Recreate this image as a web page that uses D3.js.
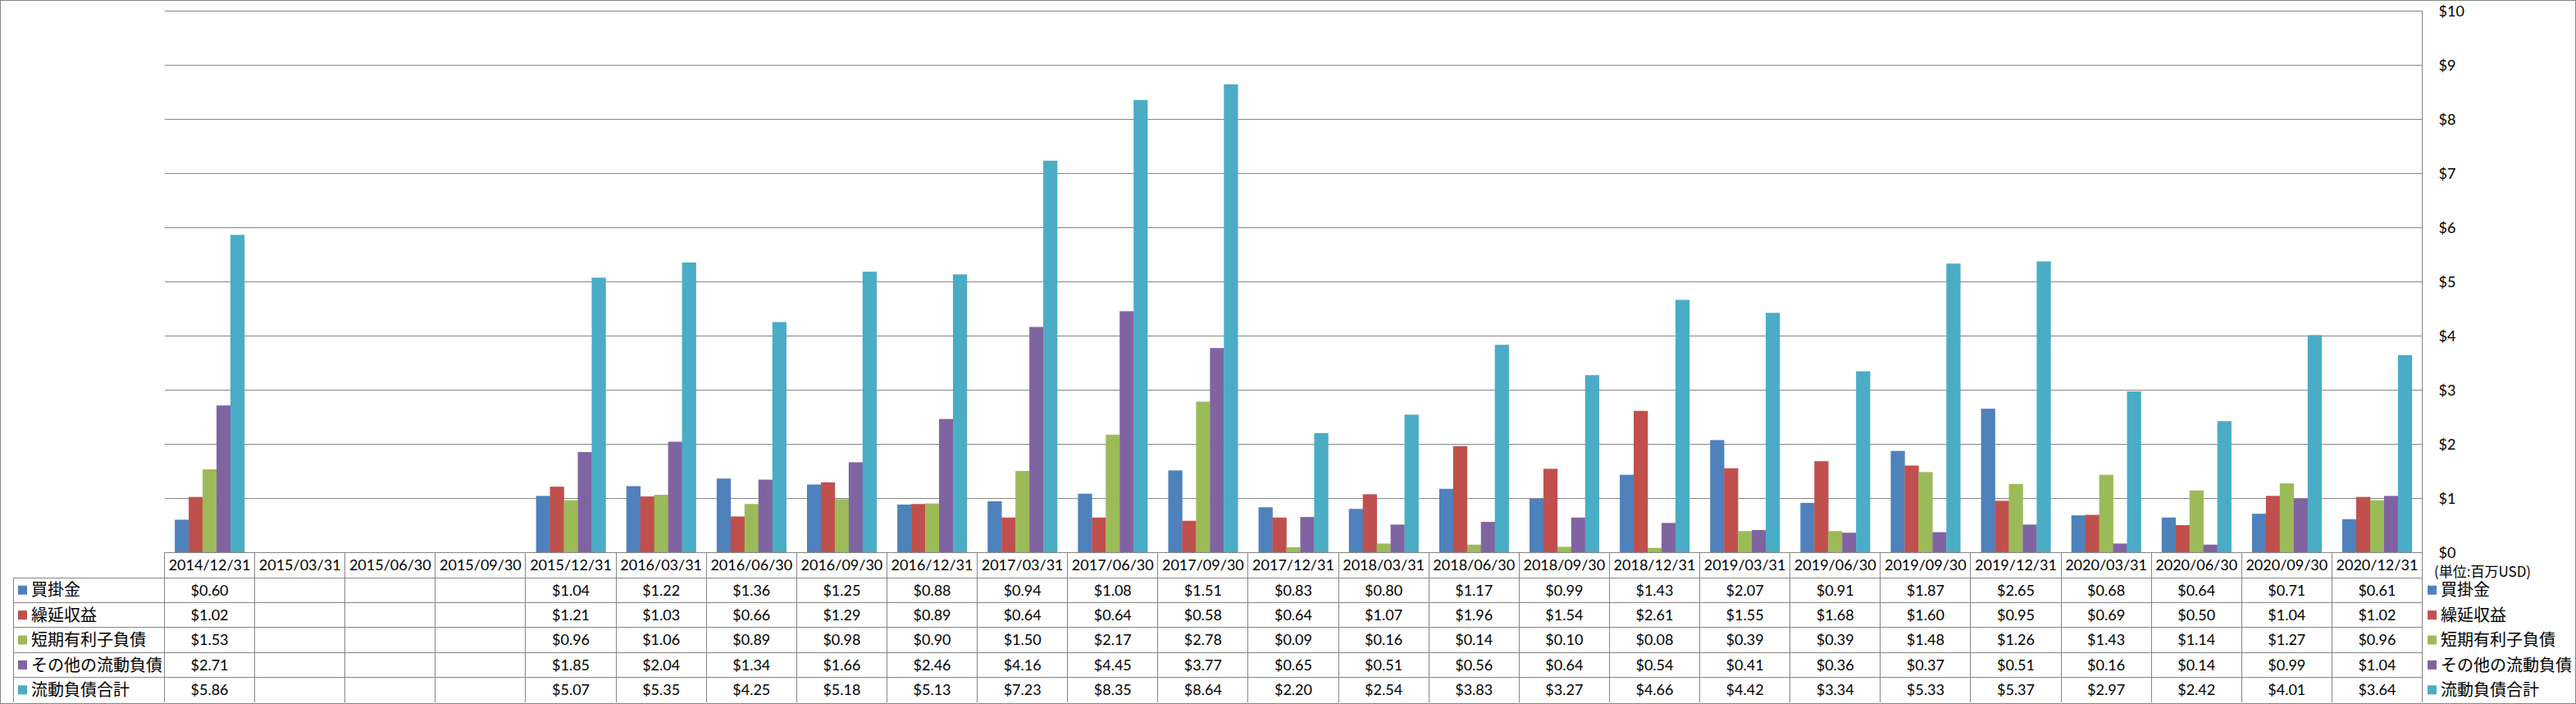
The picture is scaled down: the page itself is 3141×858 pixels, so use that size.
<!DOCTYPE html>
<html>
<head>
<meta charset="utf-8">
<script src="https://cdn.jsdelivr.net/npm/d3@7"></script>
<style>
  html, body { margin: 0; padding: 0; background: #fff; }
  svg { display: block; }
  .num { font-family: Lato, "Open Sans", sans-serif; font-size: 18px; fill: #000; }
  .jp { font-family: "Noto Sans CJK JP", sans-serif; font-size: 20px; fill: #000; }
</style>
</head>
<body>
<svg id="chart" width="3141" height="858"></svg>
<script>
// quarter end dates
const dates = ["2014/12/31", "2015/03/31", "2015/06/30", "2015/09/30", "2015/12/31",
  "2016/03/31", "2016/06/30", "2016/09/30", "2016/12/31", "2017/03/31", "2017/06/30",
  "2017/09/30", "2017/12/31", "2018/03/31", "2018/06/30", "2018/09/30", "2018/12/31",
  "2019/03/31", "2019/06/30", "2019/09/30", "2019/12/31", "2020/03/31", "2020/06/30",
  "2020/09/30", "2020/12/31"];

const seriesNames = ["買掛金", "繰延収益", "短期有利子負債", "その他の流動負債", "流動負債合計"];
const seriesColors = ["#4F81BD", "#C0504D", "#9BBB59", "#8064A2", "#4BACC6"];

// millions USD, null = no data
const accountsPayable = [0.60, null, null, null, 1.04, 1.22, 1.36, 1.25, 0.88, 0.94, 1.08, 1.51, 0.83, 0.80, 1.17, 0.99, 1.43, 2.07, 0.91, 1.87, 2.65, 0.68, 0.64, 0.71, 0.61];
const deferredRevenue = [1.02, null, null, null, 1.21, 1.03, 0.66, 1.29, 0.89, 0.64, 0.64, 0.58, 0.64, 1.07, 1.96, 1.54, 2.61, 1.55, 1.68, 1.60, 0.95, 0.69, 0.50, 1.04, 1.02];
const shortTermDebt = [1.53, null, null, null, 0.96, 1.06, 0.89, 0.98, 0.90, 1.50, 2.17, 2.78, 0.09, 0.16, 0.14, 0.10, 0.08, 0.39, 0.39, 1.48, 1.26, 1.43, 1.14, 1.27, 0.96];
const otherCurrent = [2.71, null, null, null, 1.85, 2.04, 1.34, 1.66, 2.46, 4.16, 4.45, 3.77, 0.65, 0.51, 0.56, 0.64, 0.54, 0.41, 0.36, 0.37, 0.51, 0.16, 0.14, 0.99, 1.04];
const totalCurrent = [5.86, null, null, null, 5.07, 5.35, 4.25, 5.18, 5.13, 7.23, 8.35, 8.64, 2.20, 2.54, 3.83, 3.27, 4.66, 4.42, 3.34, 5.33, 5.37, 2.97, 2.42, 4.01, 3.64];

const yTicks = [0, 1, 2, 3, 4, 5, 6, 7, 8, 9, 10];
const unitLabel = "(単位:百万USD)";

const seriesValues = [accountsPayable, deferredRevenue, shortTermDebt, otherCurrent, totalCurrent];

const W = 3141, H = 858;
const plotLeft = 200.5, plotRight = 2953.5, plotTop = 13, plotBottom = 673;
const tableLeft = 16.5, headerBottom = 704, tableBottom = 856;
const lineColor = "#868686";

const svg = d3.select("#chart");

// outer border
svg.append("rect")
  .attr("x", 0.5).attr("y", 0.5)
  .attr("width", W - 1).attr("height", H - 1)
  .attr("fill", "none").attr("stroke", lineColor);

const x = d3.scaleBand()
  .domain(dates)
  .range([plotLeft, plotRight])
  .paddingInner(0.23)
  .paddingOuter(0.115);

const xCol = d3.scaleBand()
  .domain(dates)
  .range([plotLeft, plotRight]);

const x1 = d3.scaleBand()
  .domain(seriesNames)
  .range([0, x.bandwidth()]);

const y = d3.scaleLinear()
  .domain([0, 10])
  .range([plotBottom, plotTop]);

const rowY = d3.scaleBand()
  .domain(seriesNames)
  .range([headerBottom, tableBottom]);

// gridlines + right labels
const axis = svg.append("g")
  .attr("transform", `translate(${plotRight},0)`)
  .call(d3.axisRight(y)
    .tickValues(yTicks)
    .tickSizeInner(-(plotRight - plotLeft))
    .tickSizeOuter(0)
    .tickPadding(20)
    .tickFormat(d => "$" + d));
axis.select(".domain").remove();
axis.selectAll(".tick line").attr("stroke", lineColor).attr("shape-rendering", "crispEdges");
axis.selectAll(".tick text")
  .attr("class", "num")
  .attr("dy", "0.35em")
  .attr("text-anchor", "start");

// bars
const rows = dates.map((d, i) => ({
  date: d,
  values: seriesNames.map((s, j) => ({ name: s, value: seriesValues[j][i], color: seriesColors[j] }))
}));

svg.append("g")
  .selectAll("g")
  .data(rows)
  .join("g")
    .attr("transform", d => `translate(${x(d.date)},0)`)
  .selectAll("rect")
  .data(d => d.values.filter(v => v.value != null))
  .join("rect")
    .attr("x", d => x1(d.name))
    .attr("width", x1.bandwidth() + 0.3)
    .attr("y", d => y(d.value))
    .attr("height", d => y(0) - y(d.value))
    .attr("fill", d => d.color);

// data table lines
const grid = svg.append("g")
  .attr("stroke", lineColor)
  .attr("shape-rendering", "crispEdges");

grid.append("line")
  .attr("x1", plotLeft).attr("x2", plotRight)
  .attr("y1", plotBottom).attr("y2", plotBottom);

grid.selectAll("line.row")
  .data(seriesNames)
  .join("line")
    .attr("class", "row")
    .attr("x1", tableLeft).attr("x2", plotRight)
    .attr("y1", d => rowY(d)).attr("y2", d => rowY(d));

grid.selectAll("line.col")
  .data(dates)
  .join("line")
    .attr("class", "col")
    .attr("x1", d => xCol(d)).attr("x2", d => xCol(d))
    .attr("y1", plotBottom).attr("y2", tableBottom);

grid.append("line")
  .attr("x1", tableLeft).attr("x2", tableLeft)
  .attr("y1", headerBottom).attr("y2", tableBottom);

grid.append("line")
  .attr("x1", plotRight).attr("x2", plotRight)
  .attr("y1", plotTop).attr("y2", tableBottom);

// header dates
svg.append("g")
  .selectAll("text")
  .data(dates)
  .join("text")
    .attr("class", "num")
    .attr("x", d => xCol(d) + xCol.bandwidth() / 2)
    .attr("y", (plotBottom + headerBottom) / 2)
    .attr("dy", "0.35em")
    .attr("text-anchor", "middle")
    .text(d => d);

// table values
const cells = [];
seriesNames.forEach((s, j) => {
  dates.forEach((d, i) => {
    const v = seriesValues[j][i];
    if (v != null) cells.push({ series: s, date: d, value: v });
  });
});

svg.append("g")
  .selectAll("text")
  .data(cells)
  .join("text")
    .attr("class", "num")
    .attr("x", d => xCol(d.date) + xCol.bandwidth() / 2)
    .attr("y", d => rowY(d.series) + rowY.bandwidth() / 2)
    .attr("dy", "0.35em")
    .attr("text-anchor", "middle")
    .text(d => "$" + d.value.toFixed(2));

// legend keys, left in the table and on the right
function legend(keyX, textX) {
  const g = svg.append("g");
  const items = g.selectAll("g")
    .data(seriesNames)
    .join("g")
      .attr("transform", d => `translate(0,${rowY(d) + rowY.bandwidth() / 2})`);
  items.append("rect")
    .attr("x", keyX).attr("y", -5.5)
    .attr("width", 11).attr("height", 11)
    .attr("fill", (d, i) => seriesColors[i]);
  items.append("text")
    .attr("class", "jp")
    .attr("x", textX)
    .attr("dy", "0.36em")
    .text(d => d);
}
legend(22, 38);
legend(2960, 2976);

svg.append("text")
  .attr("class", "jp")
  .attr("x", 2968)
  .attr("y", 697)
  .attr("dy", "0.36em")
  .style("font-size", "17px")
  .text(unitLabel);
</script>
</body>
</html>
